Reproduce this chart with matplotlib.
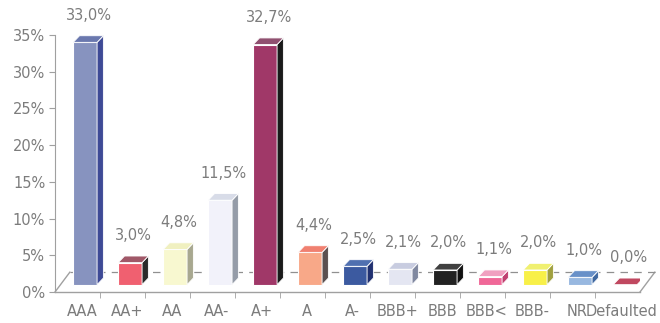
import matplotlib
matplotlib.use("Agg")
import matplotlib.pyplot as plt
from matplotlib.patches import Polygon

categories = ["AAA", "AA+", "AA", "AA-", "A+", "A", "A-", "BBB+", "BBB", "BBB<", "BBB-", "NR", "Defaulted"]
values = [33.0, 3.0, 4.8, 11.5, 32.7, 4.4, 2.5, 2.1, 2.0, 1.1, 2.0, 1.0, 0.0]
front_colors = ["#8793bf", "#f06070", "#f8f8d0", "#f2f2fa", "#a03868", "#f8a888", "#3c5aa0",
                "#e4e6f2", "#222222", "#f06898", "#f8f048", "#98b8e0", "#c04860"]
side_colors = ["#3e4a96", "#2a2a2a", "#a8a890", "#959ca8", "#1a1a1a", "#5a5050", "#203070",
               "#8088a0", "#111111", "#c04070", "#a0a040", "#4068a0", "#c04860"]
top_colors = ["#6a78ae", "#a05868", "#f0f0c0", "#d8dce8", "#905070", "#f08070", "#5070b0",
              "#c8cce0", "#404040", "#f0a0c0", "#f0f070", "#6890c8", "#c04860"]
yticks = [0, 5, 10, 15, 20, 25, 30, 35]

fig = plt.figure(figsize=(6.6, 3.23), dpi=100)
ax = fig.add_axes([55/660, 1-292/323, 585/660, 257/323])
ax.set_xlim(-0.5, len(categories) - 0.5)
ax.set_ylim(0, 35)
ax.set_facecolor("none")

gray = "#7c7c7c"
base = 1.0      # bars stand in the middle of the 3D floor
shift = 0.17    # horizontal shift of bars into the floor
w = 0.53
dx, dy = 0.14, 0.9
fdx, fdy = 0.33, 2.7

xmin, xmax = -0.5, len(categories) - 0.5
# floor
ax.plot([xmin, xmax], [0, 0], color="#a0a0a0", lw=1.0, clip_on=False, zorder=1)
ax.plot([xmin, xmin + fdx], [0, fdy], color="#a0a0a0", lw=1.0, clip_on=False, zorder=1)
ax.plot([xmax, xmax + fdx], [0, fdy], color="#a0a0a0", lw=1.0, clip_on=False, zorder=1)
ax.plot([xmin + fdx, xmax + fdx], [fdy, fdy], color="#909090", lw=0.9, ls=(0, (6, 5)),
        clip_on=False, zorder=1)

for i, v in enumerate(values):
    xc = i + shift
    xl, xr = xc - w/2, xc + w/2
    if v > 0:
        ax.bar(xc, v, bottom=base, width=w, color=front_colors[i], edgecolor="white",
               lw=0.8, zorder=3)
        side = Polygon([(xr, base), (xr + dx, base + dy), (xr + dx, base + v + dy), (xr, base + v)],
                       closed=True, facecolor=side_colors[i], edgecolor="white", lw=0.6, zorder=3)
        ax.add_patch(side)
    top = Polygon([(xl, base + v), (xr, base + v), (xr + dx, base + v + dy), (xl + dx, base + v + dy)],
                  closed=True, facecolor=top_colors[i], edgecolor="white", lw=0.6, zorder=3)
    ax.add_patch(top)
    label = f"{v:.1f}".replace(".", ",") + "%"
    ax.text(xc + 0.08, base + v + 3.7, label, ha="center", va="center", fontsize=10.5,
            color=gray, family="DejaVu Sans", zorder=4)

ax.set_yticks(yticks)
ax.set_yticklabels([f"{t}%" for t in yticks])
ax.set_xticks([i + 0.1 for i in range(len(categories))])
ax.set_xticklabels(categories)
ax.set_xticks([i + 0.5 for i in range(len(categories) - 1)], minor=True)
ax.tick_params(axis="x", which="major", length=0, pad=9, labelsize=10.5, labelcolor=gray)
ax.tick_params(axis="x", which="minor", length=4, color="#a0a0a0", direction="out")
ax.tick_params(axis="y", length=4, color="#a0a0a0", labelsize=10.5, labelcolor=gray, pad=3)
for s in ["top", "right", "bottom"]:
    ax.spines[s].set_visible(False)
ax.spines["left"].set_color("#a0a0a0")

fig.savefig("out.png", dpi=100, facecolor="white")
